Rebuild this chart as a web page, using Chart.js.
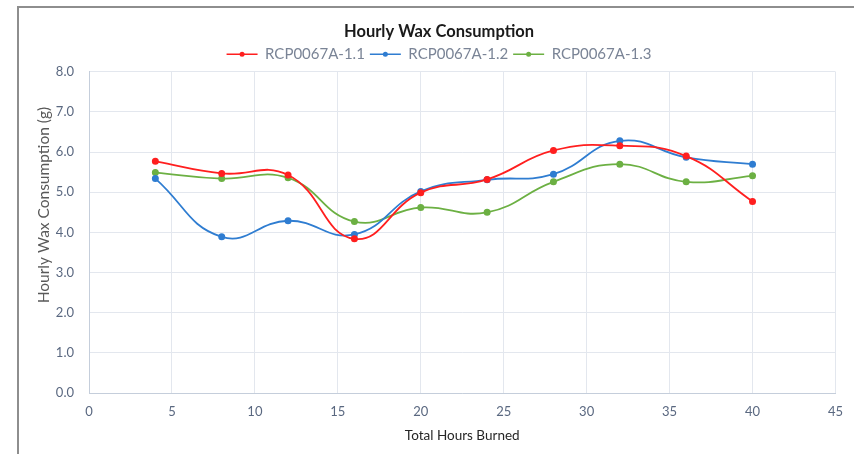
<!DOCTYPE html>
<html>
<head>
<meta charset="utf-8">
<script src="https://cdn.jsdelivr.net/npm/chart.js@4"></script>
<style>
    html, body { margin: 0; padding: 0; background: #fff; overflow: hidden; }
    #wrap { position: relative; width: 854px; height: 454px; }
    #frame {
        position: absolute; left: 17px; top: 6px; width: 900px; height: 500px;
        border: 2px solid #8e8e8e; pointer-events: none;
    }
</style>
</head>
<body>
<div id="wrap">
    <canvas id="waxChart" width="854" height="454"></canvas>
    <div id="frame"></div>
</div>
<script>
// data
const hours = [4, 8, 12, 16, 20, 24, 28, 32, 36, 40];
const seriesNames = ["RCP0067A-1.1", "RCP0067A-1.2", "RCP0067A-1.3"];
const wax11 = [5.77, 5.47, 5.43, 3.84, 4.99, 5.32, 6.04, 6.16, 5.90, 4.77];
const wax12 = [5.34, 3.89, 4.29, 3.95, 5.02, 5.31, 5.45, 6.28, 5.87, 5.70];
const wax13 = [5.49, 5.34, 5.36, 4.27, 4.62, 4.50, 5.26, 5.70, 5.26, 5.41];
const colors = ["#ff1f1f", "#2f7dd1", "#6cb043"];
const yTitle = "Hourly Wax Consumption (g)";

const font = "Lato, 'Open Sans', sans-serif";
const tickColor = "#5a6880";

function makeSet(name, values, color) {
    return {
        label: name,
        data: hours.map((h, i) => ({ x: h, y: values[i] })),
        borderColor: color,
        backgroundColor: color,
        borderWidth: 1.8,
        pointRadius: 2.6,
        pointHoverRadius: 3,
        tension: 0.45,
        fill: false
    };
}

// marker dot in the middle of each legend line + the y axis title
const extras = {
    id: "extras",
    afterDraw(chart) {
        const ctx = chart.ctx;
        const legend = chart.legend;
        if (legend && legend.legendHitBoxes) {
            const bw = legend.options.labels.boxWidth;
            legend.legendHitBoxes.forEach((box, i) => {
                ctx.save();
                ctx.fillStyle = colors[i];
                ctx.beginPath();
                ctx.arc(box.left + bw / 2, box.top + box.height / 2, 2.5, 0, Math.PI * 2);
                ctx.fill();
                ctx.restore();
            });
        }
        const area = chart.chartArea;
        ctx.save();
        ctx.translate(44, area.top + (area.bottom - area.top) * 0.415);
        ctx.rotate(-Math.PI / 2);
        ctx.fillStyle = "#595959";
        ctx.font = "15.5px " + font;
        ctx.textAlign = "center";
        ctx.textBaseline = "middle";
        ctx.fillText(yTitle, 0, 0);
        ctx.restore();
    }
};

new Chart(document.getElementById("waxChart"), {
    type: "line",
    data: {
        datasets: [
            makeSet(seriesNames[0], wax11, colors[0]),
            makeSet(seriesNames[1], wax12, colors[1]),
            makeSet(seriesNames[2], wax13, colors[2])
        ]
    },
    options: {
        responsive: false,
        animation: false,
        layout: { padding: { left: 26, right: 2, top: 0, bottom: 0 } },
        plugins: {
            title: {
                display: true,
                text: "Hourly Wax Consumption",
                color: "#1a1a1a",
                font: { family: font, size: 16.5, weight: "bold" },
                padding: { top: 22, bottom: 0 }
            },
            legend: {
                display: true,
                labels: {
                    boxWidth: 31,
                    boxHeight: 0,
                    color: "#7a8496",
                    font: { family: font, size: 15 },
                    padding: 5,
                    generateLabels(chart) {
                        return chart.data.datasets.map((ds, i) => ({
                            text: ds.label,
                            fillStyle: ds.borderColor,
                            strokeStyle: ds.borderColor,
                            lineWidth: 1.5,
                            fontColor: "#7a8496",
                            datasetIndex: i,
                            hidden: false
                        }));
                    }
                }
            },
            tooltip: { enabled: false }
        },
        scales: {
            x: {
                type: "linear",
                min: 0,
                max: 45,
                ticks: { stepSize: 5, color: tickColor, font: { family: font, size: 13 }, padding: 11 },
                grid: { color: "#e3e7ee", drawTicks: false },
                border: { color: "#c5cedb" },
                title: {
                    display: true,
                    text: "Total Hours Burned",
                    color: "#262626",
                    font: { family: font, size: 13.5 },
                    padding: { top: 4, bottom: 10 }
                },
                afterFit(scale) { scale.height = 61; }
            },
            y: {
                min: 0,
                max: 8,
                ticks: {
                    stepSize: 1,
                    color: tickColor,
                    font: { family: font, size: 13 },
                    padding: 15,
                    callback: v => v.toFixed(1)
                },
                grid: { color: "#e3e7ee", drawTicks: false },
                border: { color: "#c5cedb" },
                afterFit(scale) { scale.width = 63; }
            }
        }
    },
    plugins: [extras]
});
</script>
</body>
</html>
